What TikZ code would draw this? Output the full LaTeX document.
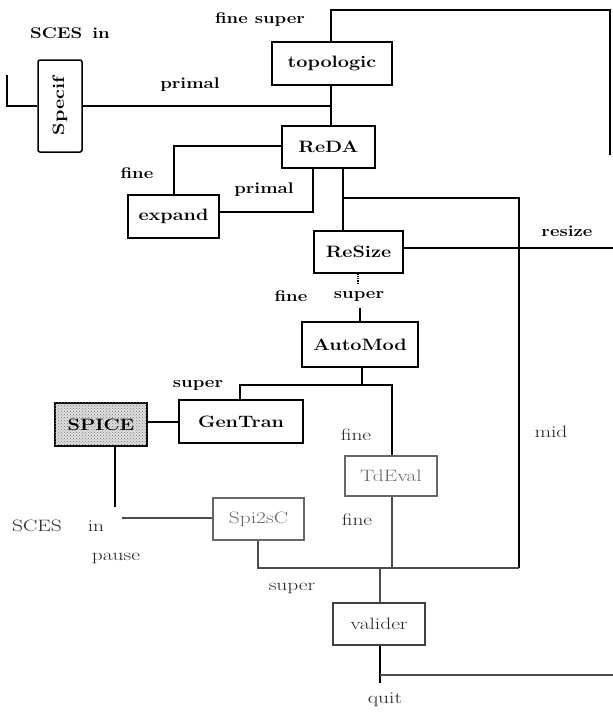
\documentclass[tikz,border=0pt]{standalone}
\usepackage{fontspec}
\usepackage{graphicx}
\usetikzlibrary{patterns}
\newcommand{\wbtxt}[1]{\scalebox{1.2}[1]{#1}}
\newcommand{\wltxt}[1]{\scalebox{1.3}[1]{#1}}
\tikzset{
  x=1pt, y=-1pt,
  boxtxt/.style={font=\fontsize{16.5}{18}\selectfont\bfseries},
  lbltxt/.style={font=\fontsize{15.5}{17}\selectfont\bfseries, inner sep=0},
  lightlbl/.style={font=\fontsize{16.5}{18}\selectfont, inner sep=0, text=black!85},
  box/.style={draw, line width=1.5pt, inner sep=0, boxtxt},
  greybox/.style={draw=black!60, line width=1.3pt, inner sep=0, text=black!60,
     font=\fontsize{16.5}{18}\selectfont},
  wire/.style={line width=1.2pt},
  greywire/.style={line width=1.1pt, draw=black!70},
}
\begin{document}
\begin{tikzpicture}
\useasboundingbox (0,0) rectangle (613,713);
% boxes
\node[box, minimum width=120pt, minimum height=43pt] (topo) at (332,63.5) {\wbtxt{topologic}};
\node[box, minimum width=93pt, minimum height=42pt] (reda) at (328.5,147) {\wbtxt{ReDA}};
\node[box, minimum width=91pt, minimum height=43pt] (expand) at (173.5,216.5) {\wbtxt{expand}};
\node[box, rounded corners=2pt, minimum width=44pt, minimum height=92pt] (specif) at (60,106) {\rotatebox{90}{\wbtxt{Specif}}};
\node[box, minimum width=89pt, minimum height=42pt] (resize) at (358.5,252) {\wbtxt{ReSize}};
\node[box, minimum width=116pt, minimum height=45pt] (automod) at (360,344.5) {\wbtxt{AutoMod}};
\node[box, minimum width=124pt, minimum height=43pt] (gentran) at (241,421.5) {\wbtxt{GenTran}};
\node[box, line width=1.8pt, fill=gray!25, minimum width=92pt, minimum height=43pt] (spice) at (101,424.5) {};
\fill[pattern=crosshatch dots, pattern color=black!55] (spice.south west) rectangle (spice.north east);
\node[boxtxt] at (spice.center) {\wbtxt{SPICE}};
\node[greybox, minimum width=92pt, minimum height=40pt] (tdeval) at (391,476) {\wltxt{TdEval}};
\node[greybox, minimum width=91pt, minimum height=42pt] (spi2sc) at (258.5,519) {\wltxt{Spi2sC}};
\node[greybox, draw=black!75, text=black!85, minimum width=92pt, minimum height=42pt] (valider) at (379,624) {\wltxt{valider}};

% junction coordinates
\coordinate (lefttop) at (7,75);
\coordinate (jprimal) at (331,106);
\coordinate (topleft) at (331,10);
\coordinate (topright) at (610,10);
\coordinate (rightend) at (610,155);
\coordinate (rdown) at (343,198);
\coordinate (midtop) at (519,198);
\coordinate (midbot) at (519,568);
\coordinate (sbot) at (258,568);
\coordinate (resizeend) at (613,248);
\coordinate (rsdot) at (358,283);
\coordinate (amtop) at (360,308);
\coordinate (amjoin) at (362,385);
\coordinate (gtjoin) at (240,385);
\coordinate (tdjoin) at (392,385);
\coordinate (spicebot) at (115,507);
\coordinate (spiin) at (122,518);
\coordinate (tdbot) at (392,568);
\coordinate (valtop) at (380,568);
\coordinate (valbot) at (380,683);
\coordinate (quitj) at (380,675);
\coordinate (quitend) at (613,675);

% connectors
\draw[wire] (lefttop) -- (7,106) -- (specif.west |- 0,106);
\draw[wire] (specif.east |- 0,106) -- (jprimal);
\draw[wire] (topo.south -| jprimal) -- (reda.north -| jprimal);
\draw[wire] (topo.north -| topleft) -- (topleft) -- (topright) -- (rightend);
\draw[wire] (reda.west |- 0,146) -- (174,146) -- (expand.north -| 174,0);
\draw[wire] (expand.east |- 0,212) -- (313,212) -- (reda.south -| 313,0);
\draw[wire] (reda.south -| rdown) -- (resize.north -| rdown);
\draw[wire] (rdown) -- (midtop) -- (midbot);
\draw[greywire] (midbot) -- (sbot) -- (spi2sc.south -| sbot);
\draw[wire] (resize.east |- resizeend) -- (resizeend);
\draw[wire, densely dotted] (resize.south -| rsdot) -- (rsdot);
\draw[wire] (amtop) -- (automod.north -| amtop);
\draw[wire] (automod.south -| amjoin) -- (amjoin);
\draw[wire] (gentran.north -| gtjoin) -- (gtjoin) -- (tdjoin) -- (tdeval.north -| tdjoin);
\draw[wire] (spice.east |- 0,422) -- (gentran.west |- 0,422);
\draw[wire] (spice.south -| spicebot) -- (spicebot);
\draw[greywire] (spiin) -- (spi2sc.west |- spiin);
\draw[greywire] (tdeval.south -| tdbot) -- (tdbot);
\draw[greywire] (valtop) -- (valider.north -| valtop);
\draw[wire] (valider.south -| valbot) -- (valbot);
\draw[greywire] (quitj) -- (quitend);

% labels
\node[lbltxt] (l1) at (70,33) {\wbtxt{SCES\, in}};
\node[lbltxt] (l2) at (260,20) {\wbtxt{fine super}};
\node[lbltxt] (l3) at (190,85) {\wbtxt{primal}};
\node[lbltxt] (l4) at (137,173) {\wbtxt{fine}};
\node[lbltxt] (l5) at (264,190) {\wbtxt{primal}};
\node[lbltxt] (l6) at (567,231) {\wbtxt{resize}};
\node[lbltxt] (l7) at (291,296) {\wbtxt{fine}};
\node[lbltxt] (l8) at (359,296) {\wbtxt{super}};
\node[lbltxt] (l9) at (198,385) {\wbtxt{super}};
\node[lightlbl] (l10) at (356,435) {\wltxt{fine}};
\node[lightlbl] (l11) at (551,432) {\wltxt{mid}};
\node[lightlbl] (l12) at (37,526) {\wltxt{SCES}};
\node[lightlbl] (l13) at (96,526) {\wltxt{in}};
\node[lightlbl] (l14) at (116,558) {\wltxt{pause}};
\node[lightlbl] (l15) at (357,520) {\wltxt{fine}};
\node[lightlbl] (l16) at (292,588) {\wltxt{super}};
\node[lightlbl] (l17) at (385,700) {\wltxt{quit}};
\end{tikzpicture}
\end{document}
